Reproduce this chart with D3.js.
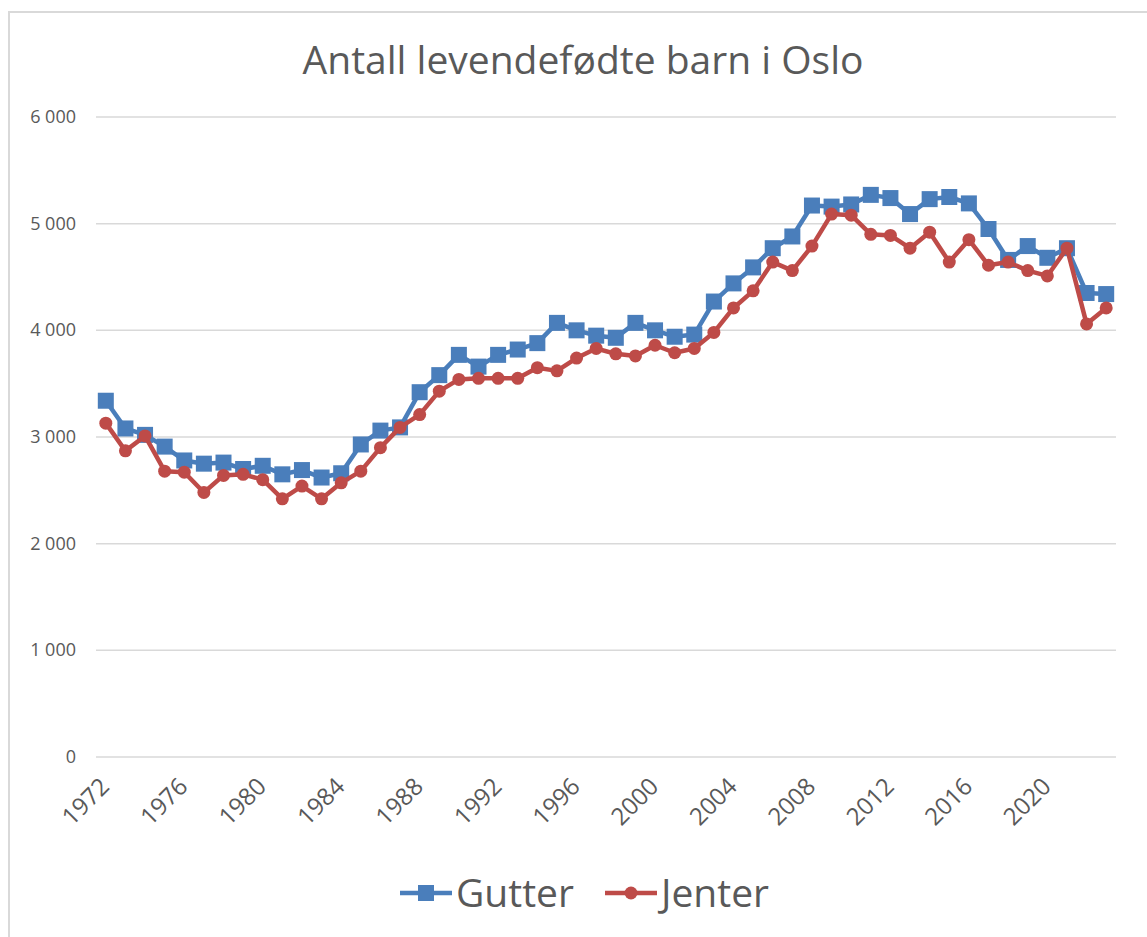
<!DOCTYPE html>
<html>
<head>
<meta charset="utf-8">
<script src="https://cdn.jsdelivr.net/npm/d3@7"></script>
<style>
  body { margin: 0; background: #fff; }
  text { font-family: "Open Sans", "Liberation Sans", sans-serif; fill: #595959; }
</style>
</head>
<body>
<script>
// data
const years = d3.range(1972, 2024)
const gutter = [3340, 3080, 3020, 2910, 2780, 2750, 2760, 2700, 2730, 2650,
  2690, 2620, 2660, 2930, 3060, 3090, 3420, 3580, 3770, 3660,
  3770, 3820, 3880, 4070, 4000, 3950, 3930, 4070, 4000, 3940,
  3960, 4270, 4440, 4590, 4770, 4880, 5170, 5160, 5180, 5270,
  5240, 5090, 5230, 5250, 5190, 4950, 4660, 4790, 4680, 4770,
  4350, 4340]
const jenter = [3130, 2870, 3010, 2680, 2670, 2480, 2640, 2650, 2600, 2420,
  2540, 2420, 2570, 2680, 2900, 3090, 3210, 3430, 3540, 3550,
  3550, 3550, 3650, 3620, 3740, 3830, 3780, 3760, 3860, 3790,
  3830, 3980, 4210, 4370, 4640, 4560, 4790, 5090, 5080, 4900,
  4890, 4770, 4920, 4640, 4850, 4610, 4640, 4560, 4510, 4770,
  4060, 4210]
const yTicks = [0, 1000, 2000, 3000, 4000, 5000, 6000]
const xTickYears = d3.range(1972, 2024, 4)

const width = 1147, height = 937

var svg = d3.select("body").append("svg")
  .attr("width", width)
  .attr("height", height)

// chart frame
svg.append("path")
  .attr("d", "M9,937 V12 H1147")
  .attr("fill", "none")
  .attr("stroke", "#d9d9d9")
  .attr("stroke-width", 2)

const x = d3.scaleBand().domain(years).range([96, 1116])
const cx = d => x(d) + x.bandwidth() / 2
const y = d3.scaleLinear().domain([0, 6000]).range([757, 117])

// gridlines
svg.append("g")
  .selectAll("line")
  .data(yTicks)
  .enter()
  .append("line")
  .attr("x1", 96).attr("x2", 1116)
  .attr("y1", d => y(d)).attr("y2", d => y(d))
  .attr("stroke", "#d9d9d9")
  .attr("stroke-width", 1.5)

// y labels
const fmt = d => d3.format(",")(d).replace(",", " ")
svg.append("g")
  .selectAll("text")
  .data(yTicks)
  .enter()
  .append("text")
  .attr("x", 76)
  .attr("y", d => y(d) + 6)
  .attr("text-anchor", "end")
  .style("font-size", "18px")
  .text(fmt)

// x labels
svg.append("g")
  .selectAll("text")
  .data(xTickYears)
  .enter()
  .append("text")
  .attr("transform", d => "translate(" + (cx(d) + 5) + ",788) rotate(-45)")
  .attr("text-anchor", "end")
  .style("font-size", "24px")
  .text(d => d)

const series = [
  { name: "Gutter", values: gutter, color: "#4a7ebb", marker: "square" },
  { name: "Jenter", values: jenter, color: "#be4b48", marker: "circle" }
]

const line = d3.line()
  .x((d, i) => cx(years[i]))
  .y(d => y(d))

series.forEach(s => {
  svg.append("path")
    .datum(s.values)
    .attr("d", line)
    .attr("fill", "none")
    .attr("stroke", s.color)
    .attr("stroke-width", 4.5)
    .attr("stroke-linejoin", "round")

  const g = svg.append("g")
  if (s.marker == "square") {
    g.selectAll("rect")
      .data(s.values)
      .enter()
      .append("rect")
      .attr("x", (d, i) => cx(years[i]) - 8)
      .attr("y", d => y(d) - 8)
      .attr("width", 16)
      .attr("height", 16)
      .attr("fill", s.color)
  } else {
    g.selectAll("circle")
      .data(s.values)
      .enter()
      .append("circle")
      .attr("cx", (d, i) => cx(years[i]))
      .attr("cy", d => y(d))
      .attr("r", 6.5)
      .attr("fill", s.color)
  }
})

// title
svg.append("text")
  .attr("x", 583)
  .attr("y", 74)
  .attr("text-anchor", "middle")
  .style("font-size", "39px")
  .text("Antall levendefødte barn i Oslo")

// legend
const legendX = [400, 605]
series.forEach((s, i) => {
  const lg = svg.append("g").attr("transform", "translate(" + legendX[i] + ",893)")
  lg.append("line")
    .attr("x1", 0).attr("x2", 52)
    .attr("stroke", s.color)
    .attr("stroke-width", 4.5)
  if (s.marker == "square") {
    lg.append("rect").attr("x", 18).attr("y", -8).attr("width", 16).attr("height", 16).attr("fill", s.color)
  } else {
    lg.append("circle").attr("cx", 26).attr("r", 6.5).attr("fill", s.color)
  }
  lg.append("text")
    .attr("x", 56)
    .attr("y", 14)
    .style("font-size", "39px")
    .text(s.name)
})
</script>
</body>
</html>
